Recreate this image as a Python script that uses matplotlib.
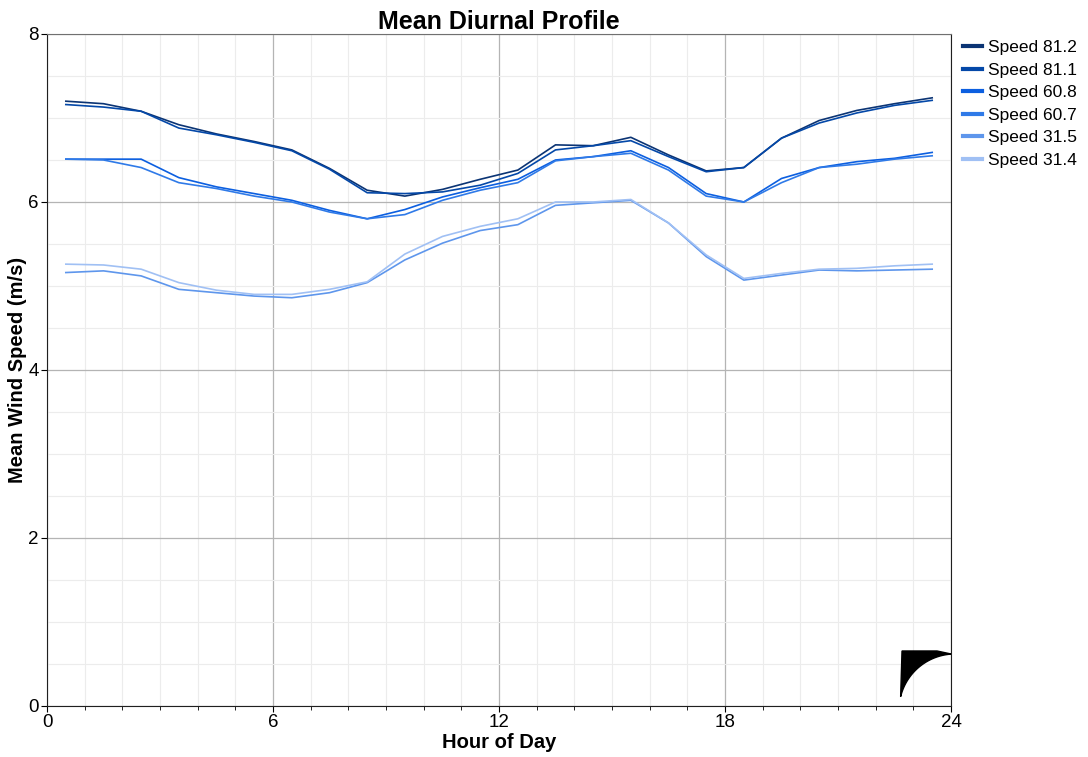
import numpy as np
import matplotlib.pyplot as plt
from matplotlib.ticker import MultipleLocator
from matplotlib.patches import Polygon

plt.rcParams['font.family'] = ['Liberation Sans', 'DejaVu Sans']

# hour of day (bin centres)
hours = np.arange(24) + 0.5

speed_812 = [7.20, 7.17, 7.08, 6.92, 6.81, 6.72, 6.62, 6.40, 6.14, 6.07, 6.15, 6.27,
             6.38, 6.68, 6.67, 6.77, 6.56, 6.37, 6.41, 6.76, 6.97, 7.09, 7.17, 7.24]
speed_811 = [7.16, 7.13, 7.08, 6.88, 6.80, 6.71, 6.61, 6.39, 6.11, 6.10, 6.12, 6.20,
             6.34, 6.62, 6.67, 6.73, 6.54, 6.36, 6.41, 6.76, 6.94, 7.06, 7.15, 7.21]
speed_608 = [6.51, 6.51, 6.51, 6.29, 6.18, 6.10, 6.02, 5.90, 5.80, 5.91, 6.06, 6.17,
             6.27, 6.50, 6.54, 6.61, 6.41, 6.10, 6.00, 6.28, 6.41, 6.48, 6.52, 6.59]
speed_607 = [6.51, 6.50, 6.41, 6.23, 6.16, 6.07, 6.00, 5.88, 5.80, 5.85, 6.02, 6.14,
             6.23, 6.49, 6.54, 6.58, 6.38, 6.07, 6.00, 6.23, 6.41, 6.45, 6.51, 6.55]
speed_315 = [5.16, 5.18, 5.12, 4.96, 4.92, 4.88, 4.86, 4.92, 5.04, 5.31, 5.51, 5.66,
             5.73, 5.96, 5.99, 6.02, 5.75, 5.35, 5.07, 5.13, 5.19, 5.18, 5.19, 5.20]
speed_314 = [5.26, 5.25, 5.20, 5.04, 4.95, 4.90, 4.90, 4.96, 5.05, 5.38, 5.59, 5.71,
             5.80, 6.00, 6.00, 6.03, 5.75, 5.37, 5.09, 5.15, 5.20, 5.21, 5.24, 5.26]

series = [
    ('Speed 81.2', speed_812, '#0b3474'),
    ('Speed 81.1', speed_811, '#0448a8'),
    ('Speed 60.8', speed_608, '#0c5fe0'),
    ('Speed 60.7', speed_607, '#2f7ae8'),
    ('Speed 31.5', speed_315, '#5e96ec'),
    ('Speed 31.4', speed_314, '#a0c0f4'),
]

fig = plt.figure(figsize=(10.88, 7.57), dpi=100)
ax = fig.add_axes([0.0432, 0.0674, 0.8309, 0.8877])

for name, vals, col in series:
    ax.plot(hours, vals, color=col, lw=1.2, label=name)

ax.set_xlim(0, 24)
ax.set_ylim(0, 8)
ax.xaxis.set_major_locator(MultipleLocator(6))
ax.xaxis.set_minor_locator(MultipleLocator(1))
ax.yaxis.set_major_locator(MultipleLocator(2))
ax.yaxis.set_minor_locator(MultipleLocator(0.5))
ax.grid(which='major', color='#b4b4b4', lw=0.9)
ax.grid(which='minor', color='#ececec', lw=0.8)
ax.set_axisbelow(True)
ax.tick_params(which='major', length=4, width=0.8, labelsize=13.5, pad=2)
ax.tick_params(which='minor', length=3, width=0.6)
ax.tick_params(axis='y', which='minor', length=0)
for s in ['left', 'bottom', 'right']:
    ax.spines[s].set_color('#202020')
ax.spines['top'].set_color('#707070')

ax.set_title('Mean Diurnal Profile', fontsize=18, fontweight='bold', pad=2)
ax.set_xlabel('Hour of Day', fontsize=14.5, fontweight='bold', labelpad=1)
ax.set_ylabel('Mean Wind Speed (m/s)', fontsize=14.5, fontweight='bold')
ax.yaxis.set_label_coords(-0.022, 0.5)

# logo in the lower right corner (axes fraction)
def to_ax(px, py):
    return ((px - 47) / 904, (706 - py) / 672)

arc = [to_ax(955 + 56 * np.cos(a), 710 - 56 * np.sin(a)) for a in np.linspace(1.64, 2.9, 30)]
pts = [to_ax(902, 651), to_ax(937, 651), to_ax(951, 654)] + arc
ax.add_patch(Polygon(pts, closed=True, transform=ax.transAxes, color='black', zorder=3))

fig.legend(loc='upper left', bbox_to_anchor=(0.879, 0.956), frameon=False,
           fontsize=12.5, handlelength=1.1, handletextpad=0.35, labelspacing=0.42,
           borderaxespad=0)
for h in fig.legends[0].get_lines():
    h.set_linewidth(3)

fig.savefig('out.png', dpi=100)
